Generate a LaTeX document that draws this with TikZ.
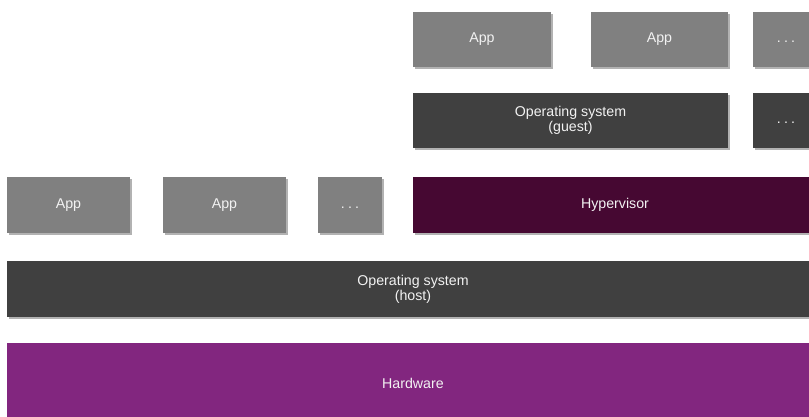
\documentclass[tikz,border=0pt]{standalone}
\usepackage{fontspec}
\setmainfont{Liberation Sans}
\usetikzlibrary{shadows}

\definecolor{appgray}{RGB}{128,128,128}
\definecolor{osdark}{RGB}{64,64,64}
\definecolor{hyperplum}{RGB}{70,8,50}
\definecolor{hwpurple}{RGB}{130,38,127}
\definecolor{labelwhite}{RGB}{242,242,242}

% spaced ellipsis used in the "more" boxes, sitting on the text baseline
\newcommand{\moredots}{\vphantom{App}.\hspace{3.2pt}.\hspace{3.2pt}.}

\tikzset{
  layer/.style={rectangle, inner sep=0pt, outer sep=0pt, align=center,
    text=labelwhite, font=\fontsize{14.2}{15}\selectfont,
    drop shadow={shadow xshift=1.6pt, shadow yshift=-2pt, opacity=0.3, fill=black}},
  appbox/.style={layer, fill=appgray, minimum height=55pt},
  osbox/.style={layer, fill=osdark, minimum height=55pt},
  hyperbox/.style={layer, fill=hyperplum, minimum height=56pt},
  hwbox/.style={layer, fill=hwpurple, minimum height=80pt},
}

\begin{document}
\begin{tikzpicture}[x=1pt,y=-1pt]
  \useasboundingbox (0,0) rectangle (809,417);
  \clip (0,0) rectangle (809,417);

  % guest stack
  \node[appbox, minimum width=138pt] (gapp1) at (482,39.5) {App};
  \node[appbox, minimum width=137pt] (gapp2) at (659.5,39.5) {App};
  \node[appbox, minimum width=66pt]  (gappdots) at (786,39.5) {\moredots};
  \node[osbox, minimum width=315pt]  (guest) at (570.5,120.5) {Operating system\\(guest)};
  \node[osbox, minimum width=66pt]   (guestdots) at (786,120.5) {\moredots};

  % host applications and hypervisor
  \node[appbox, minimum height=56pt, minimum width=123pt] (happ1) at (68.5,205) {App};
  \node[appbox, minimum height=56pt, minimum width=123pt] (happ2) at (224.5,205) {App};
  \node[appbox, minimum height=56pt, minimum width=64pt]  (happdots) at (350,205) {\moredots};
  \node[hyperbox, minimum width=404pt] (hyper) at (615,205) {Hypervisor};

  % host OS and hardware
  \node[osbox, minimum height=56pt, minimum width=812pt] (host) at (413,289) {Operating system\\(host)};
  \node[hwbox, minimum width=812pt] (hw) at (413,383) {Hardware};
\end{tikzpicture}
\end{document}
